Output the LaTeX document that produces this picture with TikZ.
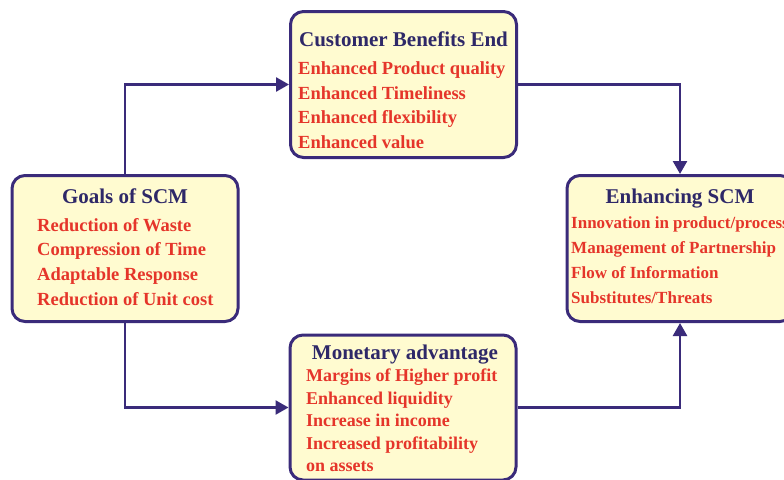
\documentclass[tikz,border=0pt]{standalone}
\usepackage{fontspec}
\setmainfont{Liberation Serif}
\usetikzlibrary{arrows.meta}

\definecolor{edgeblue}{HTML}{3A2B7A}
\definecolor{panelfill}{HTML}{FFFBD0}
\definecolor{headblue}{HTML}{2E2868}
\definecolor{itemred}{HTML}{E5352A}

\tikzset{
  panel/.style={draw=edgeblue, fill=panelfill, line width=3pt, rounded corners=13pt,
    minimum width=226pt, minimum height=146pt, inner sep=0pt},
  head/.style={font=\fontsize{21}{21}\selectfont\bfseries, text=headblue, inner sep=0pt, anchor=base},
  % lists are placed by the baseline of their last line
  items/.style={font=\fontsize{18.5}{24.6}\selectfont\bfseries, text=itemred, align=left,
    inner sep=0pt, anchor=base west},
  link/.style={draw=edgeblue, line width=2.5pt, -{Triangle[length=13pt,width=14pt]}}
}

\begin{document}
\begin{tikzpicture}[x=1pt,y=-1pt]
    \useasboundingbox (0,0) rectangle (784,479);
    \clip (0,0) rectangle (784,479);

    % the four boxes
    \node[panel] (goals) at (125,248.5) {};
    \node[panel] (benefits) at (403.5,84.5) {};
    \node[panel] (enhance) at (680,248.5) {};
    \node[panel, minimum height=145pt] (money) at (403,407.5) {};

    % connectors round the cycle
    \draw[link] (goals.north) |- (benefits.west);
    \draw[link] (benefits.east) -| (enhance.north);
    \draw[link] (goals.south) |- (money.west);
    \draw[link] (money.east) -| (enhance.south);

    % titles
    \node[head] (goalsT) at (125,203.5) {Goals of SCM};
    \node[head] (benefitsT) at (403.5,46) {Customer Benefits End};
    \node[head] (enhanceT) at (680,203) {Enhancing SCM};
    \node[head] (moneyT) at (405,359) {Monetary advantage};

    % lists
    \node[items] (goalsL) at (37,305) {Reduction of Waste\\Compression of Time\\Adaptable Response\\Reduction of Unit cost};
    \node[items] (benefitsL) at (298,148.5) {Enhanced Product quality\\Enhanced Timeliness\\Enhanced flexibility\\Enhanced value};
    \node[items, font=\fontsize{17}{25}\selectfont\bfseries] (enhanceL) at (571,303.5) {Innovation in product/process\\Management of Partnership\\Flow of Information\\Substitutes/Threats};
    \node[items, font=\fontsize{18}{22.5}\selectfont\bfseries] (moneyL) at (306,471.5) {Margins of Higher profit\\Enhanced liquidity\\Increase in income\\Increased profitability\\on assets};
\end{tikzpicture}
\end{document}
